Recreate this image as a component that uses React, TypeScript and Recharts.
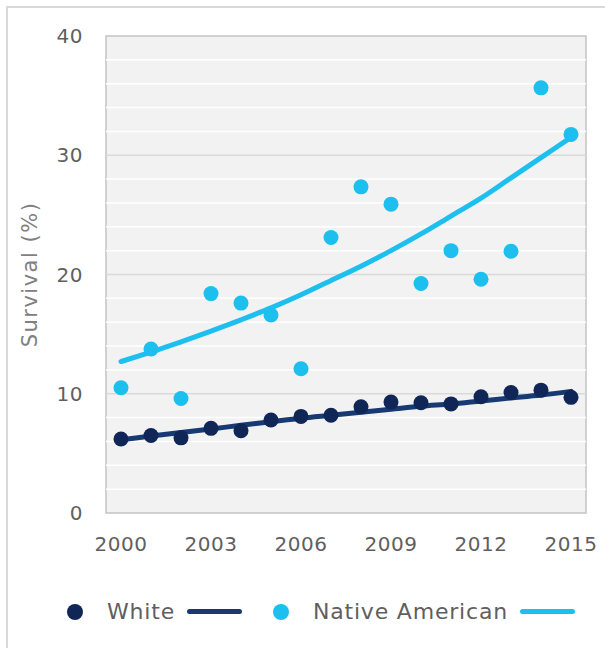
import React from "react";
import {
  ComposedChart,
  Line,
  XAxis,
  YAxis,
  ReferenceArea,
  ReferenceLine,
} from "recharts";

const years = [
  2000, 2001, 2002, 2003, 2004, 2005, 2006, 2007,
  2008, 2009, 2010, 2011, 2012, 2013, 2014, 2015,
];
const yearTicks = [2000, 2003, 2006, 2009, 2012, 2015];
const whiteRate = [6.2, 6.5, 6.3, 7.1, 6.9, 7.8, 8.1, 8.2, 8.9, 9.3, 9.25, 9.15, 9.75, 10.1, 10.3, 9.7];
const nativeRate = [10.5, 13.75, 9.6, 18.4, 17.6, 16.6, 12.1, 23.1, 27.35, 25.9, 19.25, 22.0, 19.6, 21.95, 35.65, 31.75];
const whiteTrend = [6.15, 6.45, 6.75, 7.05, 7.35, 7.65, 7.95, 8.2, 8.45, 8.7, 8.95, 9.15, 9.4, 9.65, 9.9, 10.2];
const nativeTrend = [12.7, 13.5, 14.35, 15.25, 16.2, 17.2, 18.3, 19.5, 20.7, 22.0, 23.4, 24.9, 26.4, 28.1, 29.8, 31.5];

const yTicks = [0, 10, 20, 30, 40];
const majorGrid = [10, 20, 30];
const minorGrid = [2, 4, 6, 8, 12, 14, 16, 18, 22, 24, 26, 28, 32, 34, 36, 38];

const DARK = "#0f2656";
const DARK_LINE = "#173a73";
const LIGHT = "#1dbfef";
const TEXT = "#5f5f5f";
const FONT = "'DejaVu Sans', sans-serif";

const data = years.map((year, i) => ({
  year,
  white: whiteRate[i],
  native: nativeRate[i],
  whiteFit: whiteTrend[i],
  nativeFit: nativeTrend[i],
}));

function AxisTitle({ viewBox }: any) {
  const cx = viewBox.x + 30;
  const cy = viewBox.y + viewBox.height / 2;
  return (
    <text
      x={cx}
      y={cy}
      transform={`rotate(-90, ${cx}, ${cy})`}
      textAnchor="middle"
      dominantBaseline="central"
      fontSize={21}
      letterSpacing={1.5}
      fontFamily={FONT}
      fill="#808080"
    >
      Survival (%)
    </text>
  );
}

function LegendItem({ color, label }: { color: string; label: string }) {
  return (
    <div style={{ display: "flex", alignItems: "center" }}>
      <span
        style={{
          width: 16,
          height: 16,
          borderRadius: 8,
          background: color === LIGHT ? LIGHT : DARK,
          marginRight: 24,
        }}
      />
      <span style={{ fontSize: 22, letterSpacing: 0.8, color: TEXT, marginRight: 12 }}>{label}</span>
      <span
        style={{
          width: 55,
          height: 5,
          borderRadius: 3,
          background: color === LIGHT ? LIGHT : DARK_LINE,
        }}
      />
    </div>
  );
}

export default function App() {
  return (
    <div
      style={{
        position: "absolute",
        left: 0,
        top: 0,
        width: 605,
        height: 648,
        overflow: "hidden",
        background: "#fff",
        fontFamily: FONT,
      }}
    >
      <div
        style={{
          position: "absolute",
          left: 6,
          top: 6,
          width: 620,
          height: 660,
          border: "2px solid #d9d9d9",
        }}
      />
      <div style={{ position: "absolute", left: 0, top: 0 }}>
        <ComposedChart
          width={605}
          height={648}
          data={data}
          margin={{ top: 36, right: 19, bottom: 95, left: 0 }}
        >
          <XAxis
            dataKey="year"
            type="number"
            domain={[1999.5, 2015.5]}
            ticks={yearTicks}
            height={40}
            axisLine={false}
            tickLine={false}
            tickMargin={18}
            tick={{ fontSize: 20, fill: TEXT, fontFamily: FONT, letterSpacing: 0.5 }}
          />
          <YAxis
            domain={[0, 40]}
            ticks={yTicks}
            width={106}
            axisLine={false}
            tickLine={false}
            tickMargin={17}
            tick={{ fontSize: 20, fill: TEXT, fontFamily: FONT, letterSpacing: 0.5 }}
            label={{ content: AxisTitle }}
          />
          <ReferenceArea
            x1={1999.5}
            x2={2015.5}
            y1={0}
            y2={40}
            fill="#f2f2f2"
            fillOpacity={1}
            stroke="#c4c4c4"
            strokeWidth={1.5}
          />
          {minorGrid.map((v) => (
            <ReferenceLine key={`m${v}`} y={v} stroke="#ffffff" strokeWidth={1.5} />
          ))}
          {majorGrid.map((v) => (
            <ReferenceLine key={`M${v}`} y={v} stroke="#d9d9d9" strokeWidth={1.5} />
          ))}
          <Line
            dataKey="whiteFit"
            type="monotone"
            stroke={DARK_LINE}
            strokeWidth={5}
            strokeLinecap="round"
            dot={false}
            activeDot={false}
            isAnimationActive={false}
          />
          <Line
            dataKey="nativeFit"
            type="monotone"
            stroke={LIGHT}
            strokeWidth={5}
            strokeLinecap="round"
            dot={false}
            activeDot={false}
            isAnimationActive={false}
          />
          <Line
            dataKey="white"
            stroke="none"
            dot={{ r: 7.5, fill: DARK, stroke: "none" }}
            activeDot={false}
            isAnimationActive={false}
          />
          <Line
            dataKey="native"
            stroke="none"
            dot={{ r: 7.5, fill: LIGHT, stroke: "none" }}
            activeDot={false}
            isAnimationActive={false}
          />
        </ComposedChart>
      </div>
      <div
        style={{
          position: "absolute",
          left: 67,
          top: 599,
          display: "flex",
          alignItems: "center",
          gap: 31,
        }}
      >
        <LegendItem color={DARK} label="White" />
        <LegendItem color={LIGHT} label="Native American" />
      </div>
    </div>
  );
}
